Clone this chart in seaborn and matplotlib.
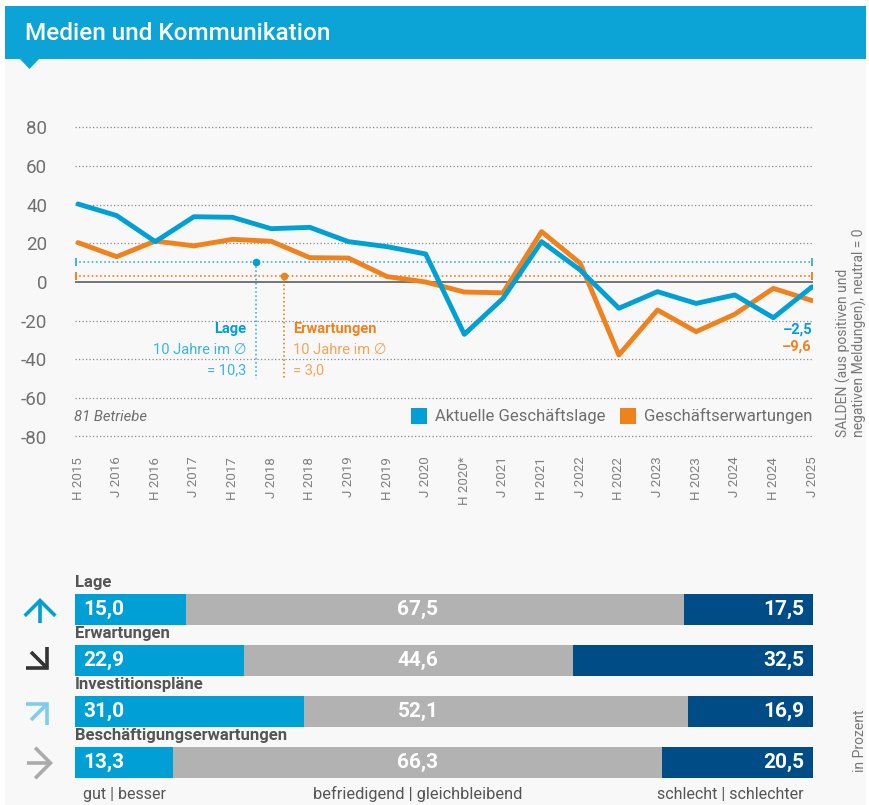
import numpy as np
import pandas as pd
import matplotlib
matplotlib.use("Agg")
import matplotlib.pyplot as plt
import seaborn as sns
from matplotlib.patches import Rectangle, Polygon, FancyArrowPatch

# ---------------- data ----------------
periods = ["H 2015", "J 2016", "H 2016", "J 2017", "H 2017", "J 2018", "H 2018",
           "J 2019", "H 2019", "J 2020", "H 2020*", "J 2021", "H 2021", "J 2022",
           "H 2022", "J 2023", "H 2023", "J 2024", "H 2024", "J 2025"]
lage = [40.4, 34.4, 20.9, 33.8, 33.5, 27.6, 28.3, 20.9, 18.3, 14.5,
        -27.1, -8.5, 20.9, 6.2, -13.6, -5.0, -11.1, -6.7, -18.5, -2.5]
erwartungen = [20.4, 13.1, 21.2, 18.7, 22.1, 21.1, 12.6, 12.4, 2.8, 0.0,
               -5.2, -5.6, 26.1, 9.7, -37.8, -14.5, -25.7, -16.7, -3.3, -9.6]
avg_lage = 10.3
avg_erw = 3.0
y_ticks = [80, 60, 40, 20, 0, -20, -40, -60, -80]
y_ticklabels = ["80", "60", "40", "20", "0", "-20", "-40", "-60", "-80"]

bar_cats = ["Lage", "Erwartungen", "Investitionspläne", "Beschäftigungserwartungen"]
gut = [15.0, 22.9, 31.0, 13.3]
mittel = [67.5, 44.6, 52.1, 66.3]
schlecht = [17.5, 32.5, 16.9, 20.5]
arrow_dirs = ["up", "down-right", "up-right", "right"]

# ---------------- style ----------------
sns.set_theme(style="white")
plt.rcParams["font.family"] = ["Roboto", "DejaVu Sans"]

BLUE = "#00a0d6"
BLUE_L = "#3cb4e0"
ORANGE = "#f0821e"
GRAY = "#b2b2b2"
DARK = "#004c87"
TXT = "#6e6e6e"

W, H = 869, 805
fig = plt.figure(figsize=(W / 100, H / 100), dpi=100)
fig.patch.set_facecolor("white")


def fx(px):
    return px / W


def fy(py):
    return 1 - py / H


# background panel
fig.patches.append(Rectangle((fx(5), 0), fx(861), fy(59), transform=fig.transFigure,
                             facecolor="#f8f8f8", edgecolor="none", zorder=-10))
# header band
fig.patches.append(Rectangle((fx(5), fy(59)), fx(861), 53 / H, transform=fig.transFigure,
                             facecolor="#0ca3d7", edgecolor="none", zorder=-9))
fig.patches.append(Polygon([(fx(19), fy(58)), (fx(40), fy(58)), (fx(29.5), fy(69))],
                           closed=True, transform=fig.transFigure,
                           facecolor="#0ca3d7", edgecolor="none", zorder=-9))
fig.text(fx(25), fy(33), "Medien und Kommunikation", color="white", fontsize=17.5,
         fontweight=500, ha="left", va="center")

# ---------------- line chart ----------------
px_per_idx = (812 - 78) / 19
x0 = -(78 - 75) / px_per_idx
x1 = 19 + (813 - 812) / px_per_idx
ax1 = fig.add_axes([fx(75), fy(436.5), (813 - 75) / W, (436.5 - 127.5) / H])
ax1.set_facecolor("none")
ax1.set_xlim(x0, x1)
ax1.set_ylim(-80, 80)

df = pd.DataFrame({"idx": np.arange(len(periods)), "Lage": lage, "Erw": erwartungen})

for v in y_ticks:
    if v != 0:
        ax1.axhline(v, color="#8a8a8a", lw=0.9, ls=(0, (1, 1.8)), zorder=0, clip_on=False)
ax1.axhline(0, color="#6a6a6a", lw=1.3, zorder=1)

# average lines
ax1.plot([x0, 19], [avg_lage, avg_lage], color=BLUE_L, lw=1.2, ls=(0, (1, 1.5)), zorder=2)
ax1.plot([x0, 19], [avg_erw, avg_erw], color=ORANGE, lw=1.2, ls=(0, (1, 1.5)), zorder=2)
for xe in [x0 + 0.02, 19]:
    ax1.plot([xe], [avg_lage], marker="|", ms=6, mew=1.4, color=BLUE_L, clip_on=False)
    ax1.plot([xe], [avg_erw], marker="|", ms=6, mew=1.4, color=ORANGE, clip_on=False)

vx_l = (256 - 78) / px_per_idx
vx_e = (283.7 - 78) / px_per_idx
ax1.plot([vx_l, vx_l], [avg_lage, -50], color=BLUE_L, lw=1.2, ls=(0, (1, 1.5)), zorder=2)
ax1.plot([vx_e, vx_e], [avg_erw, -50], color=ORANGE, lw=1.2, ls=(0, (1, 1.5)), zorder=2)
ax1.plot([vx_l], [avg_lage], marker="o", ms=4.5, color=BLUE, zorder=3)
ax1.plot([vx_e], [avg_erw], marker="o", ms=4.5, color=ORANGE, zorder=3)

sns.lineplot(data=df, x="idx", y="Erw", color=ORANGE, lw=3.5, ax=ax1, zorder=4)
sns.lineplot(data=df, x="idx", y="Lage", color=BLUE, lw=3.5, ax=ax1, zorder=5)

ax1.set_xlabel("")
ax1.set_ylabel("")
ax1.set_xticks(range(len(periods)))
ax1.set_xticklabels(periods, rotation=90, fontsize=9.6, color="#808080")
ax1.set_yticks(y_ticks)
ax1.set_yticklabels(y_ticklabels, fontsize=13.5, color="#707070")
ax1.tick_params(axis="x", length=0, pad=14.5)
ax1.tick_params(axis="y", length=0, pad=20)
for s in ax1.spines.values():
    s.set_visible(False)

# annotations
tx_l = (246 - 78) / px_per_idx
tx_e = (293 - 78) / px_per_idx


def val(py):
    return (282 - py) / 1.93


ax1.text(tx_l, val(329), "Lage", color=BLUE, fontsize=10.5, fontweight="bold", ha="right", va="center")
ax1.text(tx_l, val(350), "10 Jahre im ∅", color=BLUE_L, fontsize=10.5, ha="right", va="center")
ax1.text(tx_l, val(370), "= 10,3", color=BLUE_L, fontsize=10.5, ha="right", va="center")
ax1.text(tx_e, val(329), "Erwartungen", color=ORANGE, fontsize=10.5, fontweight="bold", ha="left", va="center")
ax1.text(tx_e, val(350), "10 Jahre im ∅", color="#f4a55a", fontsize=10.5, ha="left", va="center")
ax1.text(tx_e, val(370), "= 3,0", color="#f4a55a", fontsize=10.5, ha="left", va="center")

ax1.text(19, val(330), "–2,5", color=BLUE, fontsize=10.5, fontweight="bold", ha="right", va="center")
ax1.text(19, val(347), "–9,6", color=ORANGE, fontsize=10.5, fontweight="bold", ha="right", va="center")

fig.text(fx(74), fy(417), "81 Betriebe", color=TXT, fontsize=10.7, style="italic", ha="left", va="center")

# legend
fig.patches.append(Rectangle((fx(411), fy(424)), 16 / W, 16 / H, transform=fig.transFigure,
                             facecolor=BLUE, edgecolor="none"))
fig.text(fx(435), fy(416), "Aktuelle Geschäftslage", color=TXT, fontsize=12, ha="left", va="center")
fig.patches.append(Rectangle((fx(620), fy(424)), 16 / W, 16 / H, transform=fig.transFigure,
                             facecolor=ORANGE, edgecolor="none"))
fig.text(fx(644), fy(416), "Geschäftserwartungen", color=TXT, fontsize=12, ha="left", va="center")

fig.text(fx(843), fy(437), "SALDEN (aus positiven und", rotation=90, color="#777777",
         fontsize=10, ha="center", va="bottom")
fig.text(fx(859), fy(437), "negativen Meldungen), neutral = 0", rotation=90, color="#777777",
         fontsize=10, ha="center", va="bottom")

# ---------------- stacked bars ----------------
ax2 = fig.add_axes([fx(75), fy(788), (812.7 - 75) / W, (788 - 584) / H])
ax2.set_facecolor("none")
bdf = pd.DataFrame({"cat": bar_cats, "gut": gut, "mittel": mittel, "schlecht": schlecht})
bdf["c3"] = bdf["gut"] + bdf["mittel"] + bdf["schlecht"]
bdf["c2"] = bdf["gut"] + bdf["mittel"]
bdf["c1"] = bdf["gut"]
bw = 31 / 51
for col, colr in [("c3", DARK), ("c2", GRAY), ("c1", BLUE)]:
    sns.barplot(data=bdf, x=col, y="cat", orient="h", color=colr, saturation=1, width=bw,
                linewidth=0, edgecolor="none", ax=ax2)
ax2.set_xlim(0, 100)
ax2.set_ylim(3.5, -0.5)
ax2.axis("off")

px2 = (812.7 - 75) / 100
for i, cat in enumerate(bar_cats):
    ax2.text(0, i - 0.52, cat, color="#555555", fontsize=12, fontweight="bold", ha="left", va="center")
    ax2.text(8 / px2, i, f"{gut[i]:.1f}".replace(".", ","), color="white", fontsize=15,
             fontweight="bold", ha="left", va="center")
    ax2.text((418 - 75) / px2, i, f"{mittel[i]:.1f}".replace(".", ","), color="white", fontsize=15,
             fontweight="bold", ha="center", va="center")
    ax2.text((804 - 75) / px2, i, f"{schlecht[i]:.1f}".replace(".", ","), color="white", fontsize=15,
             fontweight="bold", ha="right", va="center")

# trend arrows (open chevron heads)
arrow_colors = [BLUE, "#333333", "#7fcdee", "#aaaaaa"]
arrow_vec = {"up": ((40, 623), (40, 598)),
             "down-right": ((31, 652), (49, 670)),
             "up-right": ((31, 720), (49, 702)),
             "right": ((27, 763), (53, 763))}
for d, c in zip(arrow_dirs, arrow_colors):
    (ax_, ay_), (bx_, by_) = arrow_vec[d]
    fig.add_artist(FancyArrowPatch((fx(ax_), fy(ay_)), (fx(bx_), fy(by_)),
                                   transform=fig.transFigure,
                                   arrowstyle="->,head_length=0.55,head_width=0.55",
                                   mutation_scale=20, lw=2.6, color=c,
                                   shrinkA=0, shrinkB=0, joinstyle="miter", capstyle="butt"))

fig.text(fx(83), fy(794), "gut | besser", color="#555555", fontsize=11.5, ha="left", va="center")
fig.text(fx(418), fy(794), "befriedigend | gleichbleibend", color="#555555", fontsize=11.8,
         ha="center", va="center")
fig.text(fx(804), fy(794), "schlecht | schlechter", color="#555555", fontsize=11.5, ha="right", va="center")
fig.text(fx(860), fy(772), "in Prozent", rotation=90, color="#777777", fontsize=10, ha="center", va="bottom")

fig.savefig("out.png", dpi=100, facecolor=fig.get_facecolor())
